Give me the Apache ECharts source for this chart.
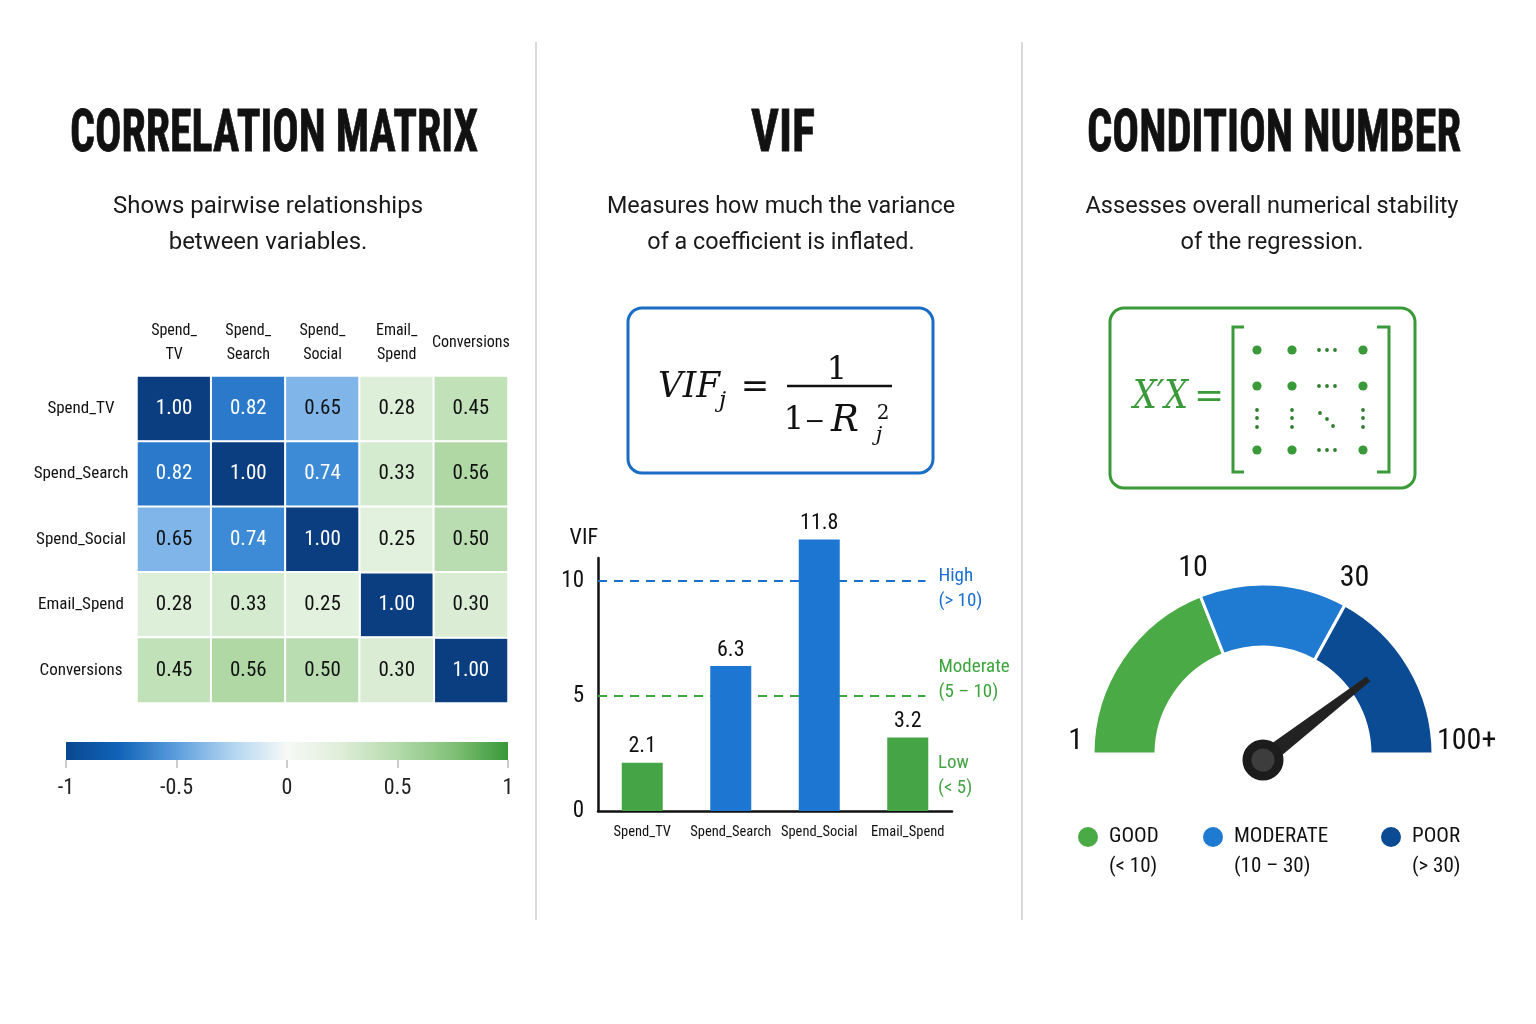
<!DOCTYPE html>
<html>
<head>
<meta charset="utf-8">
<script src="https://cdn.jsdelivr.net/npm/echarts@6.0.0/dist/echarts.min.js"></script>
<style>
html,body{margin:0;padding:0;background:#ffffff;}
#chart{width:1536px;height:1024px;}
</style>
</head>
<body>
<div id="chart"></div>
<script>
// ---------------- DATA ----------------
const corrVars = ['Spend_TV', 'Spend_Search', 'Spend_Social', 'Email_Spend', 'Conversions'];
const corrRows = [
  [1.00, 0.82, 0.65, 0.28, 0.45],
  [0.82, 1.00, 0.74, 0.33, 0.56],
  [0.65, 0.74, 1.00, 0.25, 0.50],
  [0.28, 0.33, 0.25, 1.00, 0.30],
  [0.45, 0.56, 0.50, 0.30, 1.00]
];
const colorbarRange = [-1, 1];
const colorbarStep = 0.5;

const vifVars = ['Spend_TV', 'Spend_Search', 'Spend_Social', 'Email_Spend'];
const vifValues = [2.1, 6.3, 11.8, 3.2];
const vifThresholds = [10, 5];
const vifThresholdNames = ['High\n(> 10)', 'Moderate\n(5 – 10)'];
const vifLowName = 'Low\n(< 5)';

const condBounds = [1, 10, 30, 100];
const condBoundLabels = ['1', '10', '30', '100+'];
const condZones = ['GOOD', 'MODERATE', 'POOR'];
const condZoneRanges = ['(< 10)', '(10 – 30)', '(> 30)'];
const condNumber = 57;

const panelTitles = ['CORRELATION MATRIX', 'VIF', 'CONDITION NUMBER'];
const panelSubtitles = [
  ['Shows pairwise relationships', 'between variables.'],
  ['Measures how much the variance', 'of a coefficient is inflated.'],
  ['Assesses overall numerical stability', 'of the regression.']
];

// ---------------- STYLE ----------------
const GREEN = '#45a445', BLUE = '#1c76d2';
const ZONE_COLORS = ['#4aaa45', '#1f7ad2', '#0b4b94'];
const ZONE_STOPS = [0, 0.38, 0.66, 1];
const STRONG = 0.6;
const LINE_END = 3.7;
const INK = '#111111';
const THRESH_COLORS = ['#1a6fcf', '#3ca53c'];
const THRESH_LABEL_OFFSET = [8, -16];

const cv = document.createElement('canvas').getContext('2d');
function mw(font, s) { cv.font = font; return cv.measureText(s).width; }
const FONT = '"Roboto Condensed"';
const SERIF = '"DejaVu Serif"';
function fitScale(font, text, w) { return w / mw(font, text); }

// ---------------- BUILD ----------------
const heatStrong = [], heatWeak = [];
corrRows.forEach((row, i) => row.forEach((v, j) => (v >= STRONG ? heatStrong : heatWeak).push([j, i, v])));

function condToGauge(v) {
  for (let i = 0; i < condBounds.length - 1; i++) {
    if (v <= condBounds[i + 1]) {
      return ZONE_STOPS[i] + (v - condBounds[i]) / (condBounds[i + 1] - condBounds[i]) * (ZONE_STOPS[i + 1] - ZONE_STOPS[i]);
    }
  }
  return 1;
}

const graphics = [];
[536, 1022].forEach(x => graphics.push({ type: 'line', silent: true, shape: { x1: x, y1: 42, x2: x, y2: 920 }, style: { stroke: '#d9d9d9', lineWidth: 2 } }));
const TITLE_X = [274, 783, 1274], TITLE_W = [408, 64, 374];
panelTitles.forEach((t, i) => {
  const f = 'bold 59px ' + FONT;
  graphics.push({ type: 'text', silent: true, x: TITLE_X[i], y: 136, scaleX: fitScale(f, t, TITLE_W[i]),
    style: { text: t, fontFamily: FONT, fontWeight: 'bold', fontSize: 59, fill: INK, stroke: INK, lineWidth: 0.8, align: 'center', verticalAlign: 'middle' } });
});
const SUB_X = [268, 781, 1272], SUB_W = [310, 348, 373];
panelSubtitles.forEach((lines, i) => {
  const f = '23px Roboto';
  const s = fitScale(f, lines[0], SUB_W[i]);
  lines.forEach((l, k) => graphics.push({ type: 'text', silent: true, x: SUB_X[i], y: 207 + k * 36, scaleX: s,
    style: { text: l, fontFamily: 'Roboto', fontSize: 23, fill: '#1a1a1a', align: 'center', verticalAlign: 'middle' } }));
});
// VIF formula box
graphics.push({ type: 'rect', silent: true, shape: { x: 628, y: 308, width: 305, height: 165, r: 14 }, style: { fill: '#fff', stroke: '#1a6dc4', lineWidth: 3 } });
function ftxt(x, y, text, size, italic, align, fill, fitW) {
  const el = { type: 'text', silent: true, x: x, y: y, style: { text: text, fontFamily: SERIF, fontStyle: italic ? 'italic' : 'normal', fontSize: size, fill: fill || INK, align: align || 'center', verticalAlign: 'middle' } };
  if (fitW) el.scaleX = fitScale((italic ? 'italic ' : '') + size + 'px ' + SERIF, text, fitW);
  return el;
}
graphics.push(ftxt(658, 388, 'VIF', 35, true, 'left', INK, 62));
graphics.push(ftxt(719, 401, 'j', 23, true, 'left'));
graphics.push(ftxt(755, 388, '=', 34, false));
graphics.push(ftxt(837, 371, '1', 32, false));
graphics.push({ type: 'line', silent: true, shape: { x1: 787, y1: 386, x2: 892, y2: 386 }, style: { stroke: INK, lineWidth: 2.5 } });
graphics.push(ftxt(794, 421, '1', 32, false));
graphics.push(ftxt(815, 422, '−', 25, false));
graphics.push(ftxt(845, 421, 'R', 37, true));
graphics.push(ftxt(883, 414, '2', 20, false));
graphics.push(ftxt(879, 436, 'j', 21, true));
// condition box
const MG = '#3a9a3a';
graphics.push({ type: 'rect', silent: true, shape: { x: 1110, y: 308, width: 305, height: 180, r: 14 }, style: { fill: '#fff', stroke: MG, lineWidth: 3 } });
graphics.push(ftxt(1133, 398, 'X′X', 40, true, 'left', MG, 55));
graphics.push(ftxt(1209, 398, '=', 36, false, 'center', MG));
graphics.push({ type: 'polyline', silent: true, shape: { points: [[1244, 327], [1233, 327], [1233, 472], [1244, 472]] }, style: { stroke: MG, lineWidth: 3, fill: null } });
graphics.push({ type: 'polyline', silent: true, shape: { points: [[1377, 327], [1389, 327], [1389, 472], [1377, 472]] }, style: { stroke: MG, lineWidth: 3, fill: null } });
const MCOLS = [1257, 1292, 1363], MROWS = [350, 386, 450];
MROWS.forEach(y => {
  MCOLS.forEach(x => graphics.push({ type: 'circle', silent: true, shape: { cx: x, cy: y, r: 4.6 }, style: { fill: MG } }));
  [1319, 1327, 1335].forEach(x => graphics.push({ type: 'circle', silent: true, shape: { cx: x, cy: y, r: 1.9 }, style: { fill: '#2f7f2f' } }));
});
MCOLS.forEach(x => [410, 418, 427].forEach(y => graphics.push({ type: 'circle', silent: true, shape: { cx: x, cy: y, r: 1.9 }, style: { fill: '#2f7f2f' } })));
[[1320, 413], [1327, 419], [1333, 426]].forEach(p => graphics.push({ type: 'circle', silent: true, shape: { cx: p[0], cy: p[1], r: 1.9 }, style: { fill: '#2f7f2f' } }));
// VIF low label
graphics.push({ type: 'text', silent: true, x: 938, y: 776, style: { text: vifLowName, fontFamily: FONT, fontSize: 19, lineHeight: 25, fill: GREEN, align: 'left', verticalAlign: 'middle' } });
// gauge labels (placed along the gauge geometry)
const GC = [1263, 745];
condBoundLabels.forEach((t, i) => {
  const a = Math.PI * (1 - ZONE_STOPS[i]);
  const c = Math.cos(a);
  const side = Math.abs(c) > 0.6;
  const r = side ? (c < 0 ? 180 : 174) : 190;
  graphics.push({ type: 'text', silent: true, z: 100, x: GC[0] + r * c, y: GC[1] - r * Math.sin(a) - (side ? 4 : 0),
    style: { text: t, fontFamily: FONT, fontSize: 30, fill: INK, align: side ? (c < 0 ? 'right' : 'left') : 'center', verticalAlign: 'middle' } });
});

const option = {
  animation: false,
  backgroundColor: '#ffffff',
  grid: [
    { left: 137, top: 376, width: 371, height: 327, outerBoundsMode: 'none' },
    { left: 598, top: 558, width: 354, height: 253, outerBoundsMode: 'none' },
    { left: 66, top: 742, width: 442, height: 18, show: true, borderWidth: 0, outerBoundsMode: 'none',
      backgroundColor: new echarts.graphic.LinearGradient(0, 0, 1, 0, [
        { offset: 0, color: '#0a4890' }, { offset: 0.12, color: '#1063b8' }, { offset: 0.25, color: '#5c9edd' },
        { offset: 0.38, color: '#b5d6f1' }, { offset: 0.5, color: '#f6f9f6' }, { offset: 0.62, color: '#dfeed9' },
        { offset: 0.75, color: '#b4daab' }, { offset: 0.88, color: '#7fbf75' }, { offset: 1, color: '#389838' }]) }
  ],
  xAxis: [
    { gridIndex: 0, type: 'category', data: corrVars, position: 'top', axisLine: { show: false }, axisTick: { show: false },
      axisLabel: { interval: 0, fontFamily: FONT, fontSize: 16, color: INK, lineHeight: 24, verticalAlign: 'middle', margin: 33,
        formatter: v => v.indexOf('_') >= 0 ? v.replace('_', '_\n') : v } },
    { gridIndex: 1, type: 'category', data: vifVars, axisLine: { lineStyle: { color: INK, width: 2.5 } }, axisTick: { show: false },
      axisLabel: { interval: 0, fontFamily: FONT, fontSize: 14.5, color: INK, margin: 14 } },
    { gridIndex: 1, type: 'value', min: 0, max: 4, show: false },
    { gridIndex: 2, type: 'value', min: colorbarRange[0], max: colorbarRange[1], interval: colorbarStep,
      axisLine: { show: false }, splitLine: { show: false },
      axisTick: { show: true, length: 8, lineStyle: { color: '#bdbdbd', width: 1.5 } },
      axisLabel: { fontFamily: FONT, fontSize: 22, color: '#222', margin: 17 } }
  ],
  yAxis: [
    { gridIndex: 0, type: 'category', data: corrVars, inverse: true, axisLine: { show: false }, axisTick: { show: false },
      axisLabel: { interval: 0, fontFamily: FONT, fontSize: 17, color: INK, align: 'center', margin: 56 } },
    { gridIndex: 1, type: 'value', min: 0, max: 11, interval: 5, axisLine: { show: true, lineStyle: { color: INK, width: 2.5 } },
      axisTick: { show: false }, splitLine: { show: false },
      axisLabel: { fontFamily: FONT, fontSize: 23, color: INK, margin: 14, formatter: v => (v % 5 === 0 ? String(v) : '') },
      name: 'VIF', nameLocation: 'end', nameGap: 9, nameTextStyle: { fontFamily: FONT, fontSize: 22, color: INK, align: 'right' } },
    { gridIndex: 2, type: 'value', show: false }
  ],
  visualMap: [
    { type: 'continuous', show: false, seriesIndex: 0, dimension: 2, min: STRONG, max: 1,
      inRange: { color: ['#a6cdf2', '#3f8cd8', '#1f6fc4', '#0b3e80'] } },
    { type: 'continuous', show: false, seriesIndex: 1, dimension: 2, min: 0.2, max: STRONG,
      inRange: { color: ['#eaf5e6', '#a9d59e'] } }
  ],
  legend: condZones.map((z, i) => ({
    data: [z], left: [1076, 1201, 1379][i], top: 825, padding: 0, icon: 'circle', itemWidth: 22, itemHeight: 22, selectedMode: false,
    formatter: n => '{a|' + n + '}\n{a|' + condZoneRanges[i] + '}',
    textStyle: { padding: [30, 0, 0, 5], rich: { a: { fontFamily: FONT, fontSize: 21, lineHeight: 30, color: INK } } }
  })),
  series: [
    { type: 'heatmap', xAxisIndex: 0, yAxisIndex: 0, data: heatStrong, itemStyle: { borderColor: '#fff', borderWidth: 2 },
      emphasis: { disabled: true },
      label: { show: true, formatter: p => (p.value[2] >= 0.7 ? '{w|' : '{d|') + p.value[2].toFixed(2) + '}',
        rich: { w: { color: '#fff', fontFamily: FONT, fontSize: 21 }, d: { color: INK, fontFamily: FONT, fontSize: 21 } } } },
    { type: 'heatmap', xAxisIndex: 0, yAxisIndex: 0, data: heatWeak, itemStyle: { borderColor: '#fff', borderWidth: 2 },
      emphasis: { disabled: true },
      label: { show: true, formatter: p => p.value[2].toFixed(2), color: INK, fontFamily: FONT, fontSize: 21 } },
    { type: 'bar', xAxisIndex: 1, yAxisIndex: 1, data: vifValues, barWidth: 41, clip: false, z: 3,
      itemStyle: { color: p => (p.value >= 5 ? BLUE : GREEN) },
      label: { show: true, position: 'top', distance: 5, fontFamily: FONT, fontSize: 22, color: INK, formatter: p => p.value.toFixed(1) } },
    ...vifThresholds.map((t, i) => ({
      type: 'line', xAxisIndex: 2, yAxisIndex: 1, data: [[0, t], [LINE_END, t]], symbol: 'none', silent: true, z: 1,
      lineStyle: { color: THRESH_COLORS[i], width: 2, type: [9, 7] },
      endLabel: { show: true, formatter: vifThresholdNames[i], color: THRESH_COLORS[i], fontFamily: FONT, fontSize: 19, lineHeight: 25, distance: 13, offset: [0, THRESH_LABEL_OFFSET[i]] }
    })),
    { type: 'pie', center: [1263, 754], radius: [107, 170], startAngle: 180, endAngle: 0, silent: true, z: 1,
      label: { show: false }, labelLine: { show: false }, itemStyle: { borderColor: '#fff', borderWidth: 3 },
      data: condZones.map((z, i) => ({ name: z, value: ZONE_STOPS[i + 1] - ZONE_STOPS[i], itemStyle: { color: ZONE_COLORS[i] } })) },
    { type: 'gauge', center: [1263, 760], radius: 133, startAngle: 180, endAngle: 0, min: 0, max: 1, z: 5,
      axisLine: { show: false }, splitLine: { show: false }, axisTick: { show: false }, axisLabel: { show: false },
      progress: { show: false }, title: { show: false }, detail: { show: false },
      pointer: { show: true, icon: 'path://M3.2,0 L6.8,0 L10,100 L0,100 Z', length: '100%', width: 17, itemStyle: { color: '#222' } },
      anchor: { show: true, showAbove: true, size: 32, itemStyle: { color: '#3d3d3d', borderColor: '#1c1c1c', borderWidth: 9 } },
      data: [{ value: condToGauge(condNumber) }] }
  ],
  graphic: graphics
};

const chart = echarts.init(document.getElementById('chart'), null, { renderer: 'canvas', width: 1536, height: 1024 });
chart.setOption(option);
</script>
</body>
</html>
